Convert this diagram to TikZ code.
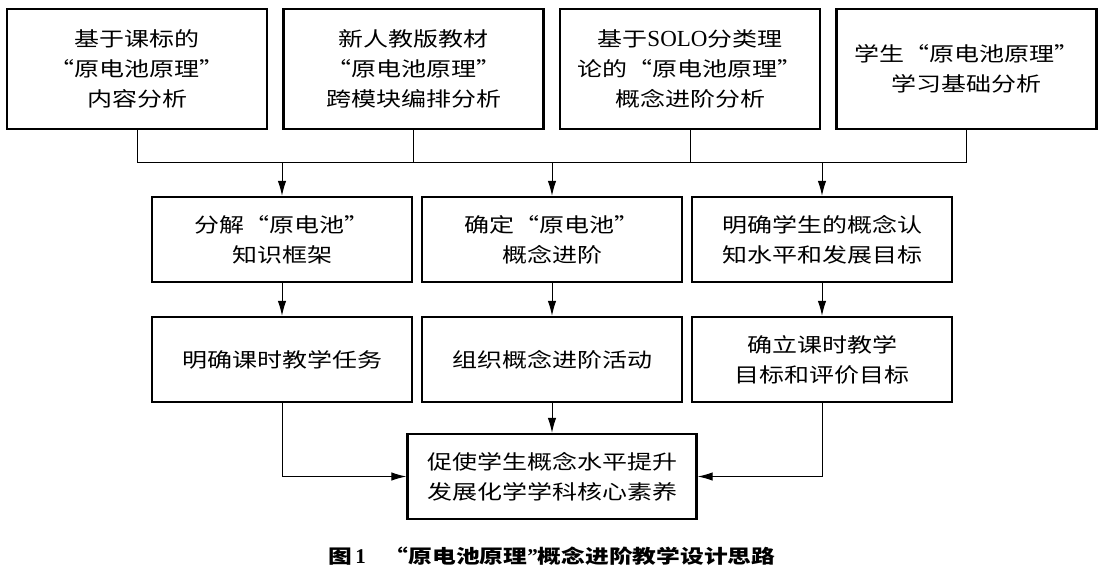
\documentclass[tikz,border=0pt]{standalone}
\usepackage{fontspec}
\setmainfont{Noto Sans CJK SC}[FakeStretch=1.25]
\newfontfamily\latinfont{Liberation Serif}
\usetikzlibrary{arrows.meta,positioning}

\begin{document}
\begin{tikzpicture}[x=1pt,y=-1pt,
  box/.style={draw,line width=2.4pt,minimum width=260pt,minimum height=85pt,
    inner sep=0pt,align=center,font=\fontsize{20}{30}\selectfont},
  link/.style={line width=1pt},
  arr/.style={link,-{Latex[length=15pt,width=8.5pt]}}]
  \useasboundingbox (0,0) rectangle (1104,574);
  % analysis
  \node[box,minimum height=120pt] (std) at (137,69) {基于课标的\\“原电池原理”\\内容分析};
  \node[box,minimum height=120pt] (book) at (413.5,69) {新人教版教材\\“原电池原理”\\跨模块编排分析};
  \node[box,minimum height=120pt] (solo) at (690,69) {基于{\latinfont\fontsize{23}{30}\selectfont SOLO}分类理\\论的“原电池原理”\\概念进阶分析};
  \node[box,minimum height=120pt] (stu) at (966.5,69) {学生“原电池原理”\\学习基础分析};
  % design
  \node[box] (split) at (282,239.5) {分解“原电池”\\知识框架};
  \node[box] (prog) at (552,239.5) {确定“原电池”\\概念进阶};
  \node[box] (level) at (822,239.5) {明确学生的概念认\\知水平和发展目标};
  \node[box] (task) at (282,359.5) {明确课时教学任务};
  \node[box] (act) at (552,359.5) {组织概念进阶活动};
  \node[box] (aim) at (822,359.5) {确立课时教学\\目标和评价目标};
  \node[box,minimum width=289pt] (goal) at (552,476.5) {促使学生概念水平提升\\发展化学学科核心素养};
  \node (cap) at (552,556) {\bfseries\fontsize{19}{24}\selectfont 图\,{\latinfont\bfseries\fontsize{21}{24}\selectfont 1}\quad “原电池原理{\latinfont\bfseries\fontsize{21}{24}\selectfont ”}概念进阶教学设计思路};
  % connectors
  \coordinate (busL) at (137,162);
  \coordinate (busR) at (966.5,162);
  \draw[link] (std.south) -- (busL) -- (busR) -- (stu.south);
  \draw[link] (book.south) -- (book.south |- busL);
  \draw[link] (solo.south) -- (solo.south |- busL);
  \draw[arr] (split.north |- busL) -- (split.north);
  \draw[arr] (prog.north |- busL) -- (prog.north);
  \draw[arr] (level.north |- busL) -- (level.north);
  \draw[arr] (split) -- (task);
  \draw[arr] (prog) -- (act);
  \draw[arr] (level) -- (aim);
  \draw[arr] (task.south) |- (goal.west);
  \draw[arr] (act) -- (goal);
  \draw[arr] (aim.south) |- (goal.east);
\end{tikzpicture}
\end{document}
